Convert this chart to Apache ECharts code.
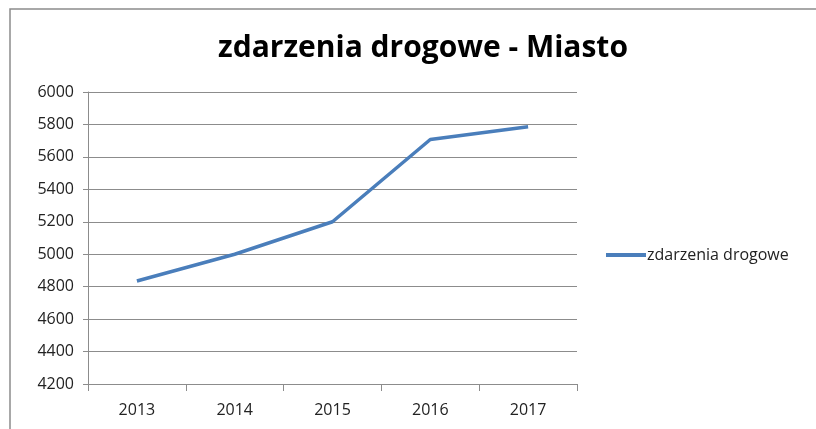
<!DOCTYPE html>
<html>
<head>
<meta charset="utf-8">
<script src="https://cdn.jsdelivr.net/npm/echarts@6/dist/echarts.min.js"></script>
<style>
html, body { margin: 0; padding: 0; background: #fff; }
#main { width: 816px; height: 429px; }
</style>
</head>
<body>
<div id="main"></div>
<script>
// dane wykresu
const years = ['2013', '2014', '2015', '2016', '2017'];
const accidents = [4835, 5000, 5200, 5707, 5786];
const seriesName = 'zdarzenia drogowe';
const titleText = 'zdarzenia drogowe - Miasto';

const font = '"Open Sans", sans-serif';
const myChart = echarts.init(document.getElementById('main'));

const option = {
  animation: false,
  textStyle: { fontFamily: font },
  graphic: [{
    type: 'rect',
    shape: { x: 10, y: 9, width: 900, height: 500 },
    style: { fill: 'none', stroke: '#8c8c8c', lineWidth: 1.5 },
    silent: true
  }],
  title: {
    text: titleText,
    left: 418,
    textAlign: 'center',
    top: 28,
    textStyle: { fontFamily: font, fontSize: 30, fontWeight: 'bold', color: '#000' }
  },
  legend: {
    orient: 'vertical',
    left: 601,
    top: 242,
    itemWidth: 40,
    itemHeight: 4,
    itemGap: 5,
    icon: 'rect',
    textStyle: { fontFamily: font, fontSize: 16, color: '#222', padding: [0, 0, 0, -4] },
    data: [seriesName]
  },
  grid: { left: 88, top: 92, width: 489, height: 292, containLabel: false },
  xAxis: {
    type: 'category',
    data: years,
    boundaryGap: true,
    axisLine: { lineStyle: { color: '#8c8c8c', width: 1 } },
    axisTick: { show: true, length: 7, lineStyle: { color: '#8c8c8c' } },
    axisLabel: { color: '#222', fontSize: 16, margin: 18, fontFamily: font },
    splitLine: { show: false }
  },
  yAxis: {
    type: 'value',
    min: 4200,
    max: 6000,
    interval: 200,
    axisLine: { show: true, lineStyle: { color: '#8c8c8c', width: 1 } },
    axisTick: { show: true, length: 5, lineStyle: { color: '#8c8c8c' } },
    axisLabel: { color: '#222', fontSize: 16, margin: 14, fontFamily: font, formatter: v => String(v) },
    splitLine: { show: true, lineStyle: { color: '#8c8c8c', width: 1 } }
  },
  series: [{
    name: seriesName,
    type: 'line',
    data: accidents,
    symbol: 'none',
    lineStyle: { color: '#4a7ebb', width: 3.5 },
    itemStyle: { color: '#4a7ebb' }
  }]
};
myChart.setOption(option);
</script>
</body>
</html>
